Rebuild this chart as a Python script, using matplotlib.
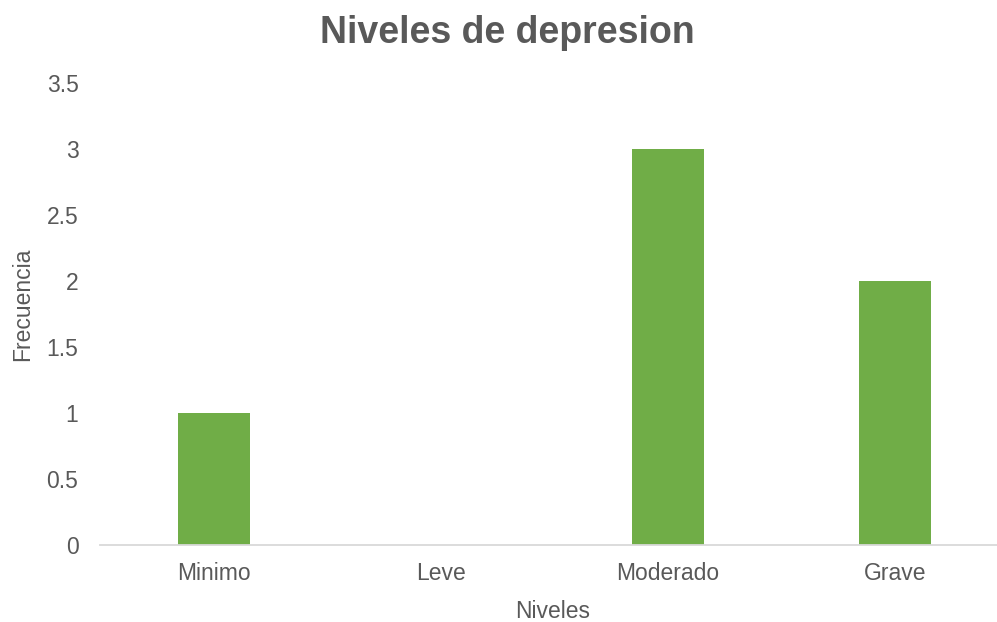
import matplotlib.pyplot as plt

niveles = ["Minimo", "Leve", "Moderado", "Grave"]
frecuencia = [1, 0, 3, 2]
yticks = [0, 0.5, 1, 1.5, 2, 2.5, 3, 3.5]

plt.rcParams['font.family'] = ['Liberation Sans', 'DejaVu Sans']
gray = '#595959'
fs = 16.5

fig = plt.figure(figsize=(9.97, 6.22), dpi=100)
ax = fig.add_axes([100/997, 77/622, 909/997, 462/622])

x = range(len(niveles))
ax.bar(x, frecuencia, width=0.317, color='#70AD47', zorder=2)

ax.set_xlim(-0.5, 3.5)
ax.set_ylim(0, 3.5)
ax.set_xticks(list(x))
ax.set_xticklabels(niveles)
ax.set_yticks(yticks)
ax.set_yticklabels([f"{v:g}" for v in yticks])
ax.tick_params(axis='both', length=0, labelsize=fs, colors=gray)
ax.tick_params(axis='x', pad=12)
ax.tick_params(axis='y', pad=15.5)

for s in ['top', 'right', 'left']:
    ax.spines[s].set_visible(False)
ax.spines['bottom'].set_color('#D9D9D9')
ax.spines['bottom'].set_linewidth(1.3)

fig.text(507/997, 1 - 43/622, "Niveles de depresion", ha='center', va='baseline',
         fontsize=27, fontweight='bold', color=gray)
fig.text(553/997, 1 - 618/622, "Niveles", ha='center', va='baseline',
         fontsize=fs, color=gray)
fig.text(23/997, 1 - 304/622, "Frecuencia", ha='center', va='center',
         rotation=90, fontsize=fs, color=gray)

fig.savefig("out.png", dpi=100)
